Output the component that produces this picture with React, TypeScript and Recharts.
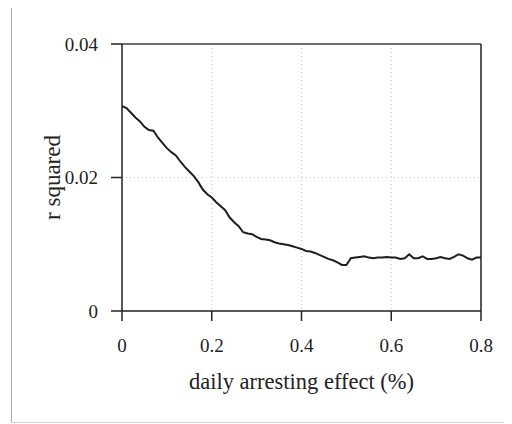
import React from "react";
import { LineChart, Line, XAxis, YAxis, CartesianGrid, ReferenceLine, Label } from "recharts";

const xValues = [
  0.0, 0.01, 0.02, 0.03, 0.04, 0.05, 0.06, 0.07, 0.08, 0.09,
  0.1, 0.11, 0.12, 0.13, 0.14, 0.15, 0.16, 0.17, 0.18, 0.19,
  0.2, 0.21, 0.22, 0.23, 0.24, 0.25, 0.26, 0.27, 0.28, 0.29,
  0.3, 0.31, 0.32, 0.33, 0.34, 0.35, 0.36, 0.37, 0.38, 0.39,
  0.4, 0.41, 0.42, 0.43, 0.44, 0.45, 0.46, 0.47, 0.48, 0.49,
  0.5, 0.51, 0.52, 0.53, 0.54, 0.55, 0.56, 0.57, 0.58, 0.59,
  0.6, 0.61, 0.62, 0.63, 0.64, 0.65, 0.66, 0.67, 0.68, 0.69,
  0.7, 0.71, 0.72, 0.73, 0.74, 0.75, 0.76, 0.77, 0.78, 0.79,
  0.8,
];

const rSquared = [
  0.0307, 0.0304, 0.0297, 0.029, 0.0284, 0.0276, 0.0271, 0.027, 0.026, 0.0252,
  0.0244, 0.0238, 0.0233, 0.0224, 0.0216, 0.0209, 0.0202, 0.0193, 0.0182, 0.0175,
  0.017, 0.0163, 0.0157, 0.0151, 0.014, 0.0133, 0.0127, 0.0118, 0.0116, 0.0115,
  0.0111, 0.0108, 0.0107, 0.0106, 0.0103, 0.0101, 0.01, 0.0099, 0.0097, 0.0095,
  0.0093, 0.009, 0.0089, 0.0087, 0.0084, 0.0081, 0.0078, 0.0076, 0.0073, 0.0069,
  0.0069, 0.0079, 0.008, 0.0081, 0.0082, 0.008, 0.0079, 0.008, 0.008, 0.0081,
  0.008, 0.008, 0.0078, 0.0079, 0.0085, 0.0079, 0.0079, 0.0082, 0.0078, 0.0078,
  0.0079, 0.0081, 0.0079, 0.0078, 0.0081, 0.0085, 0.0083, 0.0079, 0.0077, 0.008,
  0.008,
];

const xTicks = [0, 0.2, 0.4, 0.6, 0.8];
const yTicks = [0, 0.02, 0.04];

const xLabel = "daily arresting effect (%)";
const yLabel = "r squared";

const data = xValues.map((x, i) => ({ x, r: rSquared[i] }));

const font = "Liberation Serif";
const textColor = "#222";

const XTick = (props: any) => {
  const { x, y, payload } = props;
  return (
    <text x={x} y={y} dy={12.5} textAnchor="middle" fontFamily={font} fontSize={19} fill={textColor}>
      {String(payload.value)}
    </text>
  );
};

const YTick = (props: any) => {
  const { x, y, payload } = props;
  return (
    <text x={x} y={y} dy={6.5} textAnchor="end" fontFamily={font} fontSize={19} fill={textColor}>
      {String(payload.value)}
    </text>
  );
};

const XAxisTitle = (props: any) => {
  const vb = props.viewBox || {};
  const cx = vb.x + vb.width / 2;
  const by = vb.y + vb.height + 18;
  return (
    <text x={cx} y={by} textAnchor="middle" fontFamily={font} fontSize={22.5} fill={textColor}>
      {xLabel}
    </text>
  );
};

const YAxisTitle = (props: any) => {
  const vb = props.viewBox || {};
  const bx = vb.x + 28;
  const cy = vb.y + vb.height / 2;
  return (
    <text
      x={bx}
      y={cy}
      transform={`rotate(-90, ${bx}, ${cy})`}
      textAnchor="middle"
      fontFamily={font}
      fontSize={23}
      fill={textColor}
    >
      {yLabel}
    </text>
  );
};

export default function App() {
  return (
    <div style={{ position: "relative", width: 504, height: 416 }}>
      <div
        style={{
          position: "absolute",
          left: 3,
          top: -1,
          width: 520,
          height: 414,
          borderTop: "1px solid #d4d4d4",
          borderBottom: "1px solid #d4d4d4",
          borderLeft: "1px solid #a8a8a8",
          pointerEvents: "none",
        }}
      />
      <LineChart
        width={504}
        height={416}
        data={data}
        margin={{ top: 36, right: 31, left: 24, bottom: 53 }}
      >
        <CartesianGrid stroke="#c8c8c8" strokeDasharray="1 3" />
        <XAxis
          dataKey="x"
          type="number"
          domain={[0, 0.8]}
          ticks={xTicks}
          height={60}
          tickSize={10}
          tickMargin={18}
          stroke="#222"
          strokeWidth={1.5}
          tick={<XTick />}
        >
          <Label content={<XAxisTitle />} />
        </XAxis>
        <YAxis
          type="number"
          domain={[0, 0.04]}
          ticks={yTicks}
          width={90}
          tickSize={11}
          tickMargin={13}
          stroke="#222"
          strokeWidth={1.5}
          tick={<YTick />}
        >
          <Label content={<YAxisTitle />} />
        </YAxis>
        <ReferenceLine y={0.04} stroke="#6e6e6e" strokeWidth={2} />
        <ReferenceLine x={0.8} stroke="#222" strokeWidth={1.5} />
        <Line
          type="linear"
          dataKey="r"
          stroke="#1e1e1e"
          strokeWidth={2}
          dot={false}
          isAnimationActive={false}
        />
      </LineChart>
    </div>
  );
}
